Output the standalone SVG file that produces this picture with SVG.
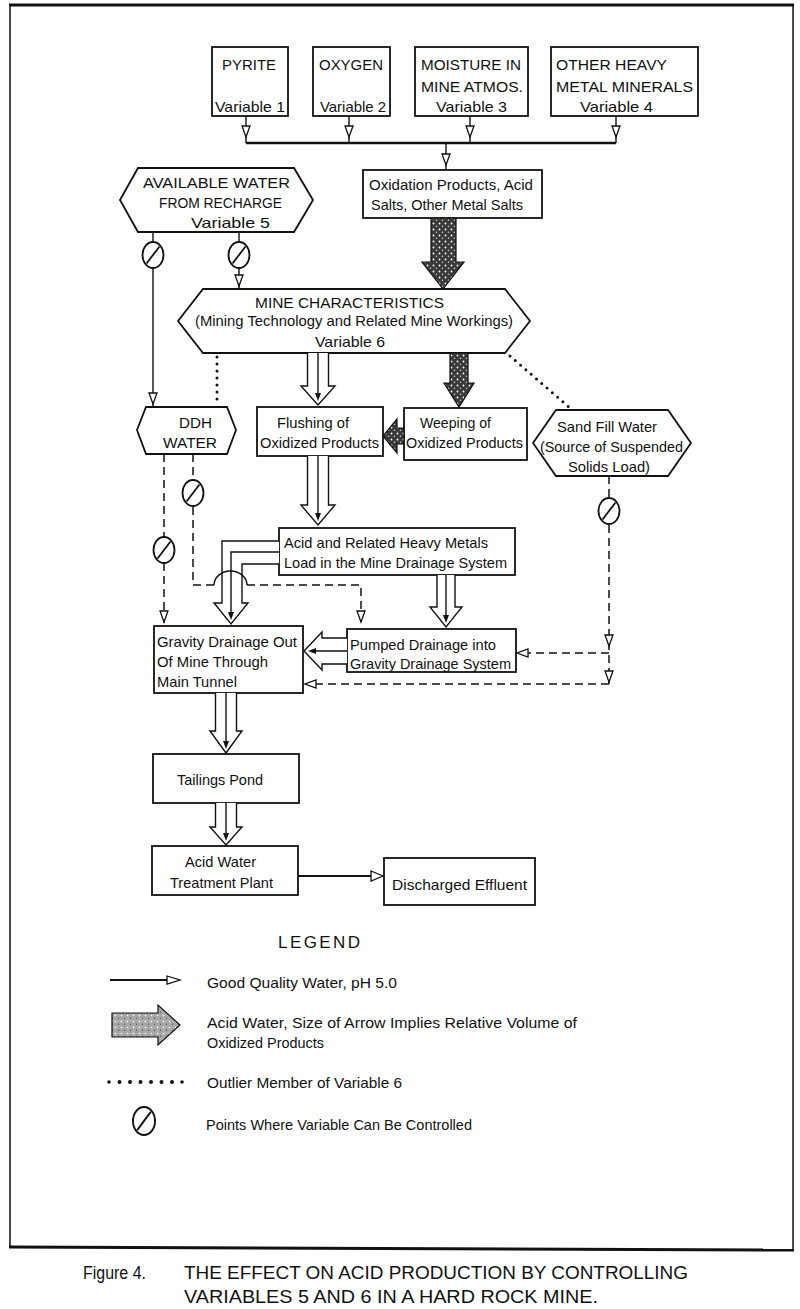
<svg xmlns="http://www.w3.org/2000/svg" xmlns:xlink="http://www.w3.org/1999/xlink" width="800" height="1309" viewBox="0 0 800 1309">
<style>
.box{fill:#fff;stroke:#111;stroke-width:1.8}
.t{font-family:"Liberation Sans",Arial,sans-serif;font-size:15px;fill:#111}
.cap{font-family:"Liberation Sans",Arial,sans-serif;font-size:18px;fill:#111}
.ln{fill:none;stroke:#111;stroke-width:1.4}
.thk{fill:none;stroke:#111;stroke-width:2.4}
.dash{fill:none;stroke:#111;stroke-width:1.5;stroke-dasharray:8 5}
.dot{fill:none;stroke:#111;stroke-width:3;stroke-linecap:round;stroke-dasharray:0 7}
.tri{fill:#fff;stroke:#111;stroke-width:1.4;stroke-linejoin:miter}
.ah{fill:#fff;stroke:#111;stroke-width:1.3}
.hs{fill:#111}
.ce{fill:#fff;stroke:#111;stroke-width:1.8}
.stip{fill:url(#stip);stroke:#111;stroke-width:1.2}
.stipL{fill:url(#stipL);stroke:#111;stroke-width:1.2}
.frame{fill:none;stroke:#111;stroke-width:1.5}
</style>
<defs>
<pattern id="stip" width="6" height="6" patternUnits="userSpaceOnUse"><rect width="6" height="6" fill="#3a3a3a"/><circle cx="1.5" cy="1.5" r="0.9" fill="#fff"/><circle cx="4.5" cy="4.2" r="0.8" fill="#ccc"/></pattern>
<pattern id="stipL" width="6" height="6" patternUnits="userSpaceOnUse"><rect width="6" height="6" fill="#a8a8a8"/><circle cx="1.5" cy="1.5" r="0.8" fill="#fff"/><circle cx="4.5" cy="4.2" r="0.7" fill="#555"/></pattern>
<path id="hd" d="M-4,-11 L4,-11 L0,0 Z" class="ah"/>
<path id="hs" d="M-3,-8 L3,-8 L0,0 Z" class="hs"/>
<g id="ctl"><ellipse rx="10.5" ry="13" class="ce"/><line x1="-6.5" y1="8.5" x2="6.5" y2="-8.5" stroke="#111" stroke-width="1.8"/></g>
</defs>
<rect width="800" height="1309" fill="#fff"/>
<g id="frame">
<path class="frame" d="M10,1247 V5 M793,5 V1249"/>
<path d="M9,5 H794" stroke="#111" stroke-width="3"/>
<path d="M9,1247 L794,1250" stroke="#111" stroke-width="3"/>
</g>

<g id="n-pyrite"><rect class="box" x="212" y="47" width="76" height="69"/>
<text class="t" x="222" y="70" textLength="54" lengthAdjust="spacingAndGlyphs">PYRITE</text>
<text class="t" x="215" y="112" textLength="70" lengthAdjust="spacingAndGlyphs">Variable 1</text></g>
<g id="n-oxygen"><rect class="box" x="313" y="47" width="77" height="69"/>
<text class="t" x="319" y="70" textLength="64" lengthAdjust="spacingAndGlyphs">OXYGEN</text>
<text class="t" x="320" y="112" textLength="66" lengthAdjust="spacingAndGlyphs">Variable 2</text></g>
<g id="n-moisture"><rect class="box" x="415" y="47" width="113" height="69"/>
<text class="t" x="421" y="70" textLength="100" lengthAdjust="spacingAndGlyphs">MOISTURE IN</text>
<text class="t" x="421" y="92" textLength="102" lengthAdjust="spacingAndGlyphs">MINE ATMOS.</text>
<text class="t" x="436" y="112" textLength="71" lengthAdjust="spacingAndGlyphs">Variable 3</text></g>
<g id="n-heavy"><rect class="box" x="551" y="47" width="147" height="69"/>
<text class="t" x="556" y="70" textLength="111" lengthAdjust="spacingAndGlyphs">OTHER HEAVY</text>
<text class="t" x="556" y="92" textLength="137" lengthAdjust="spacingAndGlyphs">METAL MINERALS</text>
<text class="t" x="580" y="112" textLength="73" lengthAdjust="spacingAndGlyphs">Variable 4</text></g>

<g id="n-oxid"><rect class="box" x="363" y="170" width="179" height="48"/>
<text class="t" x="369" y="190" textLength="164" lengthAdjust="spacingAndGlyphs">Oxidation Products, Acid</text>
<text class="t" x="371" y="210" textLength="152" lengthAdjust="spacingAndGlyphs">Salts, Other Metal Salts</text></g>

<g id="n-water5"><path class="box" d="M120,200 L138,168 H294 L313,200 L294,232 H138 Z"/>
<text class="t" x="143" y="188" textLength="147" lengthAdjust="spacingAndGlyphs">AVAILABLE WATER</text>
<text class="t" x="159" y="208" textLength="123" lengthAdjust="spacingAndGlyphs">FROM RECHARGE</text>
<text class="t" x="191" y="228" textLength="79" lengthAdjust="spacingAndGlyphs">Variable 5</text></g>

<g id="n-mine6"><path class="box" d="M178,321 L203,289 H505 L530,321 L505,353 H203 Z"/>
<text class="t" x="255" y="308" textLength="189" lengthAdjust="spacingAndGlyphs">MINE CHARACTERISTICS</text>
<text class="t" x="195" y="326" textLength="318" lengthAdjust="spacingAndGlyphs">(Mining Technology and Related Mine Workings)</text>
<text class="t" x="315" y="347" textLength="70" lengthAdjust="spacingAndGlyphs">Variable 6</text></g>

<g id="n-ddh"><path class="box" d="M137,430 L146,407 H227 L236,430 L227,454 H146 Z"/>
<text class="t" x="179" y="428" textLength="33" lengthAdjust="spacingAndGlyphs">DDH</text>
<text class="t" x="163" y="448" textLength="54" lengthAdjust="spacingAndGlyphs">WATER</text></g>

<g id="n-flush"><rect class="box" x="257" y="407" width="126" height="49"/>
<text class="t" x="277" y="428" textLength="72" lengthAdjust="spacingAndGlyphs">Flushing of</text>
<text class="t" x="260" y="448" textLength="119" lengthAdjust="spacingAndGlyphs">Oxidized Products</text></g>

<g id="n-weep"><rect class="box" x="404" y="408" width="123" height="52"/>
<text class="t" x="420" y="428" textLength="71" lengthAdjust="spacingAndGlyphs">Weeping of</text>
<text class="t" x="406" y="448" textLength="117" lengthAdjust="spacingAndGlyphs">Oxidized Products</text></g>

<g id="n-sand"><path class="box" d="M533,443 L556,410 H668 L691,443 L668,476 H556 Z"/>
<text class="t" x="557" y="432" textLength="100" lengthAdjust="spacingAndGlyphs">Sand Fill Water</text>
<text class="t" x="540" y="452" textLength="143" lengthAdjust="spacingAndGlyphs">(Source of Suspended</text>
<text class="t" x="568" y="472" textLength="82" lengthAdjust="spacingAndGlyphs">Solids Load)</text></g>

<g id="n-acid"><rect class="box" x="279" y="528" width="236" height="47"/>
<text class="t" x="284" y="548" textLength="204" lengthAdjust="spacingAndGlyphs">Acid and Related Heavy Metals</text>
<text class="t" x="284" y="568" textLength="223" lengthAdjust="spacingAndGlyphs">Load in the Mine Drainage System</text></g>

<g id="n-gravity"><rect class="box" x="154" y="626" width="149" height="67"/>
<text class="t" x="157" y="647" textLength="140" lengthAdjust="spacingAndGlyphs">Gravity Drainage Out</text>
<text class="t" x="157" y="667" textLength="111" lengthAdjust="spacingAndGlyphs">Of Mine Through</text>
<text class="t" x="157" y="687" textLength="80" lengthAdjust="spacingAndGlyphs">Main Tunnel</text></g>

<g id="n-pumped"><rect class="box" x="347" y="629" width="169" height="43"/>
<text class="t" x="350" y="650" textLength="146" lengthAdjust="spacingAndGlyphs">Pumped Drainage into</text>
<text class="t" x="350" y="669" textLength="161" lengthAdjust="spacingAndGlyphs">Gravity Drainage System</text></g>

<g id="n-tailings"><rect class="box" x="153" y="754" width="146" height="49"/>
<text class="t" x="177" y="785" textLength="86" lengthAdjust="spacingAndGlyphs">Tailings Pond</text></g>

<g id="n-treat"><rect class="box" x="152" y="846" width="146" height="49"/>
<text class="t" x="185" y="867" textLength="71" lengthAdjust="spacingAndGlyphs">Acid Water</text>
<text class="t" x="170" y="888" textLength="103" lengthAdjust="spacingAndGlyphs">Treatment Plant</text></g>

<g id="n-effluent"><rect class="box" x="384" y="858" width="151" height="47"/>
<text class="t" x="392" y="890" textLength="135" lengthAdjust="spacingAndGlyphs">Discharged Effluent</text></g>

<g id="connectors">
<path class="ln" d="M246,116 V143 M349,116 V143 M470,116 V143 M616,116 V143 M446,143 V170"/>
<path class="thk" d="M246,143 H616"/>
<use xlink:href="#hd" transform="translate(246,137)"/>
<use xlink:href="#hd" transform="translate(349,137)"/>
<use xlink:href="#hd" transform="translate(470,137)"/>
<use xlink:href="#hd" transform="translate(616,137)"/>
<use xlink:href="#hd" transform="translate(446,165)"/>

<path class="ln" d="M153,232 V242 M153,268 V407 M239,232 V242 M239,268 V289"/>
<use xlink:href="#hd" transform="translate(153,404)"/>
<use xlink:href="#hd" transform="translate(239,286)"/>
<use xlink:href="#ctl" transform="translate(153,255)"/>
<use xlink:href="#ctl" transform="translate(239,255)"/>

<path class="stip" d="M431,218 V262 H422 L443,289 L464,262 H456 V218 Z"/>
<path class="stip" d="M450,353 V383 H444 L459,407 L474,383 H468 V353 Z"/>
<path class="stip" d="M404,428 H397 V419 L383,436 L397,453 V444 H404 Z"/>

<path class="dot" d="M217,357 V403"/>
<path class="dot" d="M510,356 L570,408"/>

<path class="tri" d="M307.5,353 V386 H301 L318,405 L335,386 H328.5 V353"/>
<path class="ln" d="M318,353 V396"/>
<use xlink:href="#hs" transform="translate(318,401)"/>

<path class="tri" d="M307.5,456 V505 H301 L318,525 L335,505 H328.5 V456"/>
<path class="ln" d="M318,456 V516"/>
<use xlink:href="#hs" transform="translate(318,521)"/>

<path class="tri" d="M279,541 H222 V603 H214 L231,624 L248,603 H242 V564 H279"/>
<path class="ln" d="M279,552 H231 V615"/>
<use xlink:href="#hs" transform="translate(231,620)"/>

<path class="tri" d="M437,575 V607 H430 L446,627 L462,607 H455 V575"/>
<path class="ln" d="M446,575 V618"/>
<use xlink:href="#hs" transform="translate(446,623)"/>

<path class="tri" d="M347,638 H322 V632 L304,651 L322,670 V664 H347"/>
<path class="ln" d="M347,651 H313"/>
<use xlink:href="#hs" transform="translate(308,651) rotate(90)"/>

<path class="dash" d="M164,454 V537 M164,563 V627"/>
<use xlink:href="#hd" transform="translate(164,622)"/>
<use xlink:href="#ctl" transform="translate(164,550)"/>
<path class="dash" d="M193,454 V480 M193,507 V585 H214 M247,585 H361 V627"/>
<path class="ln" d="M214,585 A16.5,14 0 0 1 247,585"/>
<use xlink:href="#hd" transform="translate(361,622)"/>
<use xlink:href="#ctl" transform="translate(193,493)"/>

<path class="dash" d="M609,476 V497 M609,525 V684 M609,653 H518 M609,684 H306"/>
<use xlink:href="#hd" transform="translate(609,646)"/>
<use xlink:href="#hd" transform="translate(609,682)"/>
<use xlink:href="#hd" transform="translate(517,653) rotate(90)"/>
<use xlink:href="#hd" transform="translate(305,684) rotate(90)"/>
<use xlink:href="#ctl" transform="translate(609,511)"/>

<path class="tri" d="M215.5,693 V731 H210 L226,753 L242,731 H236.5 V693"/>
<path class="ln" d="M226,693 V744"/>
<use xlink:href="#hs" transform="translate(226,749)"/>

<path class="tri" d="M215.5,803 V827 H210 L226,845 L242,827 H236.5 V803"/>
<path class="ln" d="M226,803 V836"/>
<use xlink:href="#hs" transform="translate(226,841)"/>

<path d="M298,876 H380" stroke="#111" stroke-width="2.2"/>
<path class="ah" d="M371,871 L383,876 L371,881 Z"/>
</g>

<g id="legend">
<text class="t" x="278" y="948" style="font-size:17px" textLength="82" lengthAdjust="spacing">LEGEND</text>
<path d="M110,980 H170" stroke="#111" stroke-width="2.2"/>
<path class="ah" d="M167,976 L180,980 L167,984 Z"/>
<text class="t" x="207" y="988" textLength="190" lengthAdjust="spacingAndGlyphs">Good Quality Water, pH 5.0</text>
<path class="stipL" d="M112,1013 H158 V1005 L180,1025 L158,1045 V1037 H112 Z"/>
<text class="t" x="207" y="1028" textLength="370" lengthAdjust="spacingAndGlyphs">Acid Water, Size of Arrow Implies Relative Volume of</text>
<text class="t" x="207" y="1048" textLength="117" lengthAdjust="spacingAndGlyphs">Oxidized Products</text>
<g fill="#111"><circle cx="109" cy="1082" r="1.8"/><circle cx="119.5" cy="1082" r="2"/><circle cx="130" cy="1082" r="2"/><circle cx="140.5" cy="1082" r="2"/><circle cx="151" cy="1082" r="2"/><circle cx="161.5" cy="1082" r="2"/><circle cx="172" cy="1082" r="2"/><circle cx="182" cy="1082" r="1.8"/></g>
<text class="t" x="207" y="1088" textLength="195" lengthAdjust="spacingAndGlyphs">Outlier Member of Variable 6</text>
<g transform="translate(144,1121) scale(1.05,1.08)"><use xlink:href="#ctl"/></g>
<text class="t" x="206" y="1130" textLength="266" lengthAdjust="spacingAndGlyphs">Points Where Variable Can Be Controlled</text>
</g>

<g id="caption">
<text class="cap" x="83" y="1279" textLength="63" lengthAdjust="spacingAndGlyphs">Figure 4.</text>
<text class="cap" x="184" y="1279" textLength="504" lengthAdjust="spacingAndGlyphs">THE EFFECT ON ACID PRODUCTION BY CONTROLLING</text>
<text class="cap" x="184" y="1303" textLength="414" lengthAdjust="spacingAndGlyphs">VARIABLES 5 AND 6 IN A HARD ROCK MINE.</text>
</g>
</svg>
